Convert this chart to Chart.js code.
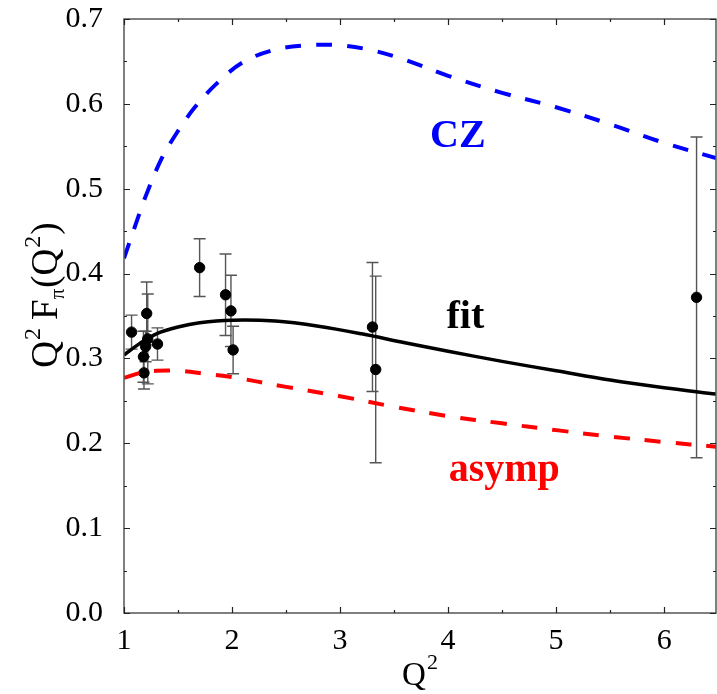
<!DOCTYPE html>
<html>
<head>
<meta charset="utf-8">
<script src="https://cdn.jsdelivr.net/npm/chart.js@4.4.1/dist/chart.umd.min.js"></script>
<style>
  html, body { margin: 0; padding: 0; background: #ffffff; }
  #wrap { width: 717px; height: 694px; }
</style>
</head>
<body>
<div id="wrap"><canvas id="c" width="717" height="694"></canvas></div>
<script>
// Q^2 values and Q^2 F_pi(Q^2) curves
const czX = [1.0, 1.1, 1.2, 1.35, 1.5, 1.65, 1.85, 2.1, 2.4, 2.7, 3.0, 3.3, 3.6, 4.0, 4.5, 5.0, 5.5, 6.0, 6.48];
const czY = [0.418, 0.455, 0.491, 0.536, 0.568, 0.595, 0.623, 0.649, 0.664, 0.669, 0.669, 0.663, 0.652, 0.633, 0.613, 0.596, 0.576, 0.554, 0.536];

const fitX = [1.0, 1.15, 1.3, 1.5, 1.7, 2.0, 2.4, 2.8, 3.2, 3.6, 4.0, 4.5, 5.0, 5.5, 6.0, 6.48];
const fitY = [0.304, 0.318, 0.329, 0.337, 0.342, 0.345, 0.344, 0.338, 0.329, 0.3185, 0.3085, 0.2965, 0.2855, 0.2745, 0.2655, 0.258];

const asympX = [1.0, 1.15, 1.3, 1.5, 1.75, 2.0, 2.5, 3.0, 3.5, 4.0, 4.5, 5.0, 5.5, 6.0, 6.48];
const asympY = [0.277, 0.283, 0.2855, 0.2855, 0.282, 0.278, 0.2665, 0.2555, 0.243, 0.232, 0.2235, 0.2155, 0.208, 0.2015, 0.196];

// measured points with symmetric errors
const dataX   = [1.07, 1.21, 1.22, 1.20, 1.18, 1.185, 1.31, 1.70, 1.94, 1.99, 2.01, 3.30, 3.33, 6.30];
const dataY   = [0.331, 0.353, 0.323, 0.314, 0.302, 0.283, 0.317, 0.407, 0.375, 0.356, 0.310, 0.337, 0.287, 0.372];
const dataErr = [0.020, 0.037, 0.053, 0.018, 0.030, 0.019, 0.019, 0.034, 0.048, 0.042, 0.028, 0.076, 0.110, 0.189];

// axis ticks
const xTicks = [1, 2, 3, 4, 5, 6];
const yTicks = [0.0, 0.1, 0.2, 0.3, 0.4, 0.5, 0.6, 0.7];

const SERIF = '"Liberation Serif", "Times New Roman", serif';

function pts(xs, ys) { return xs.map((x, i) => ({ x: x, y: ys[i] })); }

// error bars under the markers
const errorBars = {
  id: 'errorBars',
  beforeDatasetsDraw(chart) {
    const { ctx, scales: { x, y } } = chart;
    ctx.save();
    ctx.strokeStyle = '#555555';
    ctx.lineWidth = 1.4;
    dataX.forEach((xv, i) => {
      const px = x.getPixelForValue(xv);
      const top = y.getPixelForValue(dataY[i] + dataErr[i]);
      const bot = y.getPixelForValue(dataY[i] - dataErr[i]);
      ctx.beginPath();
      ctx.moveTo(px, top); ctx.lineTo(px, bot);
      ctx.moveTo(px - 6, top); ctx.lineTo(px + 6, top);
      ctx.moveTo(px - 6, bot); ctx.lineTo(px + 6, bot);
      ctx.stroke();
    });
    ctx.restore();
  }
};

// draws a run of text pieces (with raised / lowered parts)
function drawRich(ctx, parts, cx, baseline) {
  let total = 0;
  parts.forEach(p => {
    ctx.font = (p.bold ? 'bold ' : '') + p.size + 'px ' + SERIF;
    p.w = ctx.measureText(p.t).width + (p.gap || 0);
    total += p.w;
  });
  let xPos = cx - total / 2;
  ctx.textAlign = 'left';
  ctx.textBaseline = 'alphabetic';
  parts.forEach(p => {
    ctx.font = (p.bold ? 'bold ' : '') + p.size + 'px ' + SERIF;
    ctx.fillText(p.t, xPos, baseline + (p.dy || 0));
    xPos += p.w;
  });
}

// frame, inward ticks, axis titles and curve labels
const frame = {
  id: 'frame',
  afterDraw(chart) {
    const { ctx, chartArea: a, scales: { x, y } } = chart;
    ctx.save();
    ctx.strokeStyle = '#555555';
    ctx.lineWidth = 1.5;
    ctx.strokeRect(a.left, a.top, a.right - a.left, a.bottom - a.top);

    ctx.strokeStyle = '#222222';
    ctx.lineWidth = 1.2;
    ctx.beginPath();
    for (let k = 0; k <= 14; k++) {
      const v = k * 0.05;
      const py = Math.round(y.getPixelForValue(v)) + 0.5;
      const len = (k % 2 === 0) ? 6 : 3;
      ctx.moveTo(a.left, py); ctx.lineTo(a.left + len, py);
      ctx.moveTo(a.right, py); ctx.lineTo(a.right - len, py);
    }
    for (let k = 0; k <= 11; k++) {
      const v = 1 + k * 0.5;
      if (v > x.max) break;
      const px = Math.round(x.getPixelForValue(v)) + 0.5;
      const len = (k % 2 === 0) ? 6 : 3;
      ctx.moveTo(px, a.bottom); ctx.lineTo(px, a.bottom - len);
      ctx.moveTo(px, a.top); ctx.lineTo(px, a.top + len);
    }
    ctx.stroke();

    // axis titles
    ctx.fillStyle = '#000000';
    drawRich(ctx, [
      { t: 'Q', size: 33, gap: 1 },
      { t: '2', size: 22, dy: -16 }
    ], 420, 685);

    ctx.save();
    ctx.translate(57, 295);
    ctx.rotate(-Math.PI / 2);
    drawRich(ctx, [
      { t: 'Q', size: 37, gap: 1 },
      { t: '2', size: 24, dy: -17, gap: 8 },
      { t: 'F', size: 37 },
      { t: 'π', size: 21, dy: 7, gap: 1 },
      { t: '(Q', size: 37, gap: 1 },
      { t: '2', size: 24, dy: -17, gap: 1 },
      { t: ')', size: 37 }
    ], 0, 0);
    ctx.restore();

    // curve labels
    ctx.fillStyle = '#0000ff';
    drawRich(ctx, [{ t: 'CZ', size: 40, bold: true }], x.getPixelForValue(4.09), y.getPixelForValue(0.549));
    ctx.fillStyle = '#000000';
    drawRich(ctx, [{ t: 'fit', size: 40, bold: true }], x.getPixelForValue(4.16), y.getPixelForValue(0.336));
    ctx.fillStyle = '#ff0000';
    drawRich(ctx, [{ t: 'asymp', size: 40, bold: true }], x.getPixelForValue(4.52), y.getPixelForValue(0.156));
    ctx.restore();
  }
};

new Chart(document.getElementById('c'), {
  type: 'scatter',
  data: {
    datasets: [
      {
        label: 'CZ', data: pts(czX, czY), showLine: true,
        borderColor: '#0000ff', borderWidth: 4, borderDash: [16, 15],
        pointRadius: 0, tension: 0.35, fill: false
      },
      {
        label: 'fit', data: pts(fitX, fitY), showLine: true,
        borderColor: '#000000', borderWidth: 3.5,
        pointRadius: 0, tension: 0.35, fill: false
      },
      {
        label: 'asymp', data: pts(asympX, asympY), showLine: true,
        borderColor: '#ff0000', borderWidth: 4, borderDash: [16, 15],
        pointRadius: 0, tension: 0.35, fill: false
      },
      {
        label: 'data', data: pts(dataX, dataY), showLine: false,
        backgroundColor: '#000000', borderColor: '#000000',
        pointRadius: 5.2, pointHoverRadius: 5.2
      }
    ]
  },
  options: {
    responsive: false,
    animation: false,
    devicePixelRatio: 1,
    layout: { autoPadding: false, padding: { left: 0, top: 19, right: 1, bottom: 0 } },
    plugins: { legend: { display: false }, tooltip: { enabled: false }, title: { display: false } },
    scales: {
      x: {
        type: 'linear', min: 1, max: 6.48,
        grid: { display: false }, border: { display: false },
        afterBuildTicks(s) { s.ticks = xTicks.map(v => ({ value: v })); },
        afterFit(s) { s.height = 81; s.paddingLeft = 0; s.paddingRight = 0; },
        ticks: {
          color: '#000000', padding: 2, maxRotation: 0,
          font: { family: SERIF, size: 30 },
          callback: v => String(v)
        }
      },
      y: {
        type: 'linear', min: 0, max: 0.7,
        grid: { display: false }, border: { display: false },
        afterBuildTicks(s) { s.ticks = yTicks.map(v => ({ value: v })); },
        afterFit(s) { s.width = 124; s.paddingTop = 0; s.paddingBottom = 0; },
        ticks: {
          color: '#000000', padding: 13,
          font: { family: SERIF, size: 30 },
          callback: v => Number(v).toFixed(1)
        }
      }
    }
  },
  plugins: [errorBars, frame]
});
</script>
</body>
</html>
